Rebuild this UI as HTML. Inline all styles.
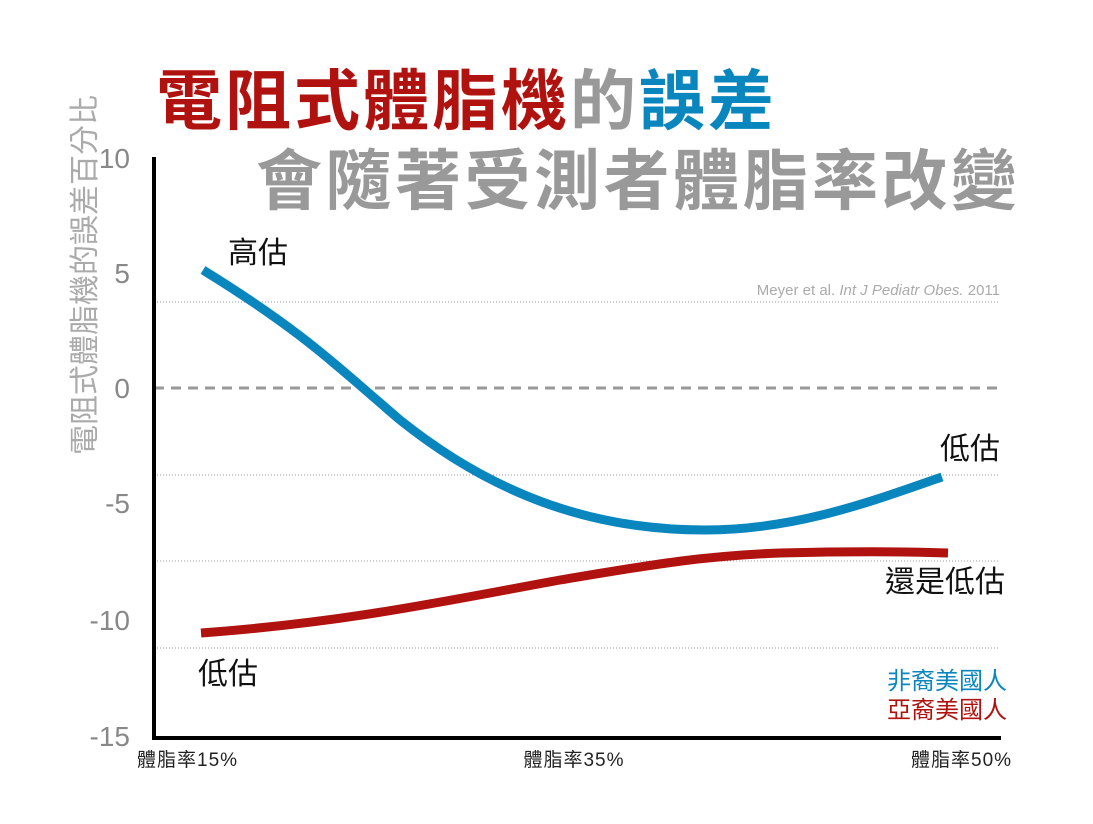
<!DOCTYPE html>
<html><head><meta charset="utf-8"><style>
body{margin:0;background:#fff;}
svg text{font-family:"Liberation Sans","Noto Sans CJK TC",sans-serif;}
</style></head><body>
<svg width="1093" height="819" viewBox="0 0 1093 819" xmlns="http://www.w3.org/2000/svg">
<rect width="1093" height="819" fill="#fff"/>
<!-- titles -->
<text x="156" y="124" font-size="66" font-weight="bold" fill="#b0120f" letter-spacing="3">電阻式體脂機<tspan fill="#999">的</tspan><tspan fill="#0a86bf">誤差</tspan></text>
<text x="256" y="204" font-size="66" font-weight="bold" fill="#999" letter-spacing="3.5">會隨著受測者體脂率改變</text>
<!-- y label -->
<text transform="translate(95,275) rotate(-90)" text-anchor="middle" font-size="30" fill="#aaa">電阻式體脂機的誤差百分比</text>
<!-- grid -->
<g stroke="#999" stroke-width="1" stroke-dasharray="1,2">
<line x1="154" y1="302" x2="1000" y2="302"/>
<line x1="154" y1="475" x2="1000" y2="475"/>
<line x1="154" y1="561" x2="1000" y2="561"/>
<line x1="154" y1="648" x2="1000" y2="648"/>
</g>
<line x1="154" y1="388" x2="1000" y2="388" stroke="#999" stroke-width="3" stroke-dasharray="10,7"/>
<!-- axes -->
<line x1="154" y1="157" x2="154" y2="740" stroke="#000" stroke-width="4"/>
<line x1="152" y1="738" x2="1001" y2="738" stroke="#000" stroke-width="4"/>
<!-- y ticks -->
<g font-size="28" fill="#888" text-anchor="end">
<text x="130" y="168">10</text>
<text x="130" y="283">5</text>
<text x="130" y="398">0</text>
<text x="130" y="513">-5</text>
<text x="130" y="630">-10</text>
<text x="130" y="746">-15</text>
</g>
<!-- x labels -->
<g font-size="19" fill="#222">
<text x="137" y="766" letter-spacing="1">體脂率15%</text>
<text x="574" y="766" text-anchor="middle" letter-spacing="1">體脂率35%</text>
<text x="911" y="766" letter-spacing="1">體脂率50%</text>
</g>
<!-- citation -->
<text x="1000" y="295" text-anchor="end" font-size="15" fill="#aaa">Meyer et al. <tspan font-style="italic">Int J Pediatr Obes.</tspan> 2011</text>
<!-- series -->
<path d="M203,270 C300,330 330,360 400,420 C500,500 600,530 705,530 C800,530 880,498 942,477" fill="none" stroke="#0a86bf" stroke-width="9"/>
<path d="M201,633 C350,622 450,600 560,580 C650,565 700,556 780,553 C860,551 920,552 948,553" fill="none" stroke="#b0120f" stroke-width="9"/>
<!-- annotations -->
<g font-size="30" fill="#111">
<text x="228" y="263">高估</text>
<text x="1000" y="459" text-anchor="end">低估</text>
<text x="1005" y="592" text-anchor="end">還是低估</text>
<text x="198" y="684">低估</text>
</g>
<text x="1007" y="689" text-anchor="end" font-size="24" fill="#0a86bf">非裔美國人</text>
<text x="1007" y="718" text-anchor="end" font-size="24" fill="#b0120f">亞裔美國人</text>
</svg>
</body></html>
